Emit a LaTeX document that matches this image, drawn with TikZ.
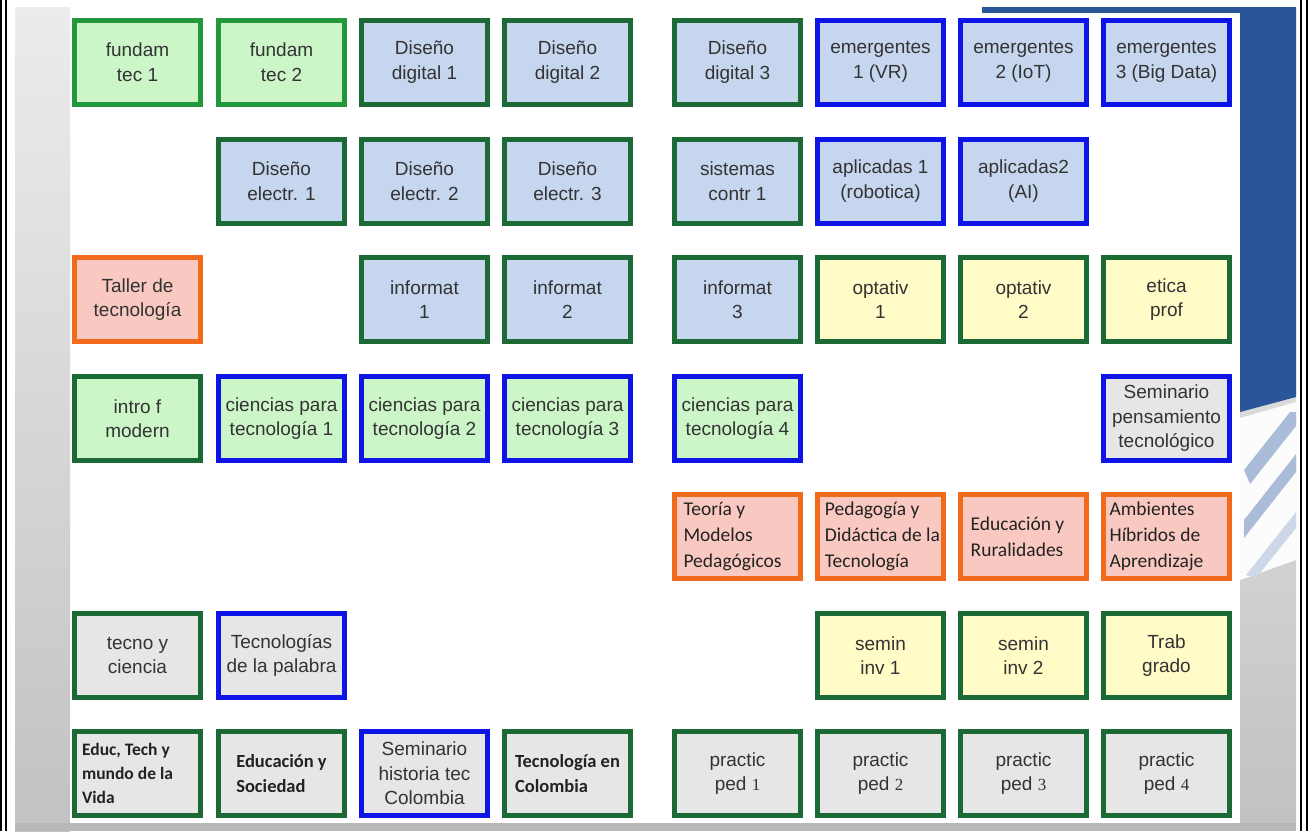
\documentclass[tikz,border=0pt]{standalone}
\usepackage{fontspec}
\setmainfont{Liberation Sans}
\newfontfamily\calib{Carlito}
\newfontfamily\digf{Liberation Serif}
\definecolor{fgreen}{HTML}{CCF5C8}
\definecolor{fblue}{HTML}{C6D6EF}
\definecolor{fyellow}{HTML}{FFFCC8}
\definecolor{fpink}{HTML}{F9C9C1}
\definecolor{fgray}{HTML}{E6E6E6}
\definecolor{bdgreen}{HTML}{1B6A35}
\definecolor{blgreen}{HTML}{22973C}
\definecolor{bblue}{HTML}{0F14E6}
\definecolor{borange}{HTML}{F26B1D}
\definecolor{txt}{HTML}{333333}
\definecolor{txtc}{HTML}{222222}
\definecolor{dblue}{HTML}{2A5699}
\definecolor{lstripe}{HTML}{AABCD8}
\definecolor{gtop}{HTML}{ECECEC}
\definecolor{gbot}{HTML}{C2C2C2}
\tikzset{
  box/.style={draw, line width=5pt, minimum width=126pt, minimum height=84pt,
    inner sep=0pt, outer sep=0pt, align=center, text=txt,
    font=\fontsize{19}{24.5}\selectfont},
  gg/.style={box, fill=fgreen, draw=bdgreen},
  ggl/.style={box, fill=fgreen, draw=blgreen},
  gb/.style={box, fill=fgreen, draw=bblue},
  bg/.style={box, fill=fblue, draw=bdgreen},
  bb/.style={box, fill=fblue, draw=bblue},
  yg/.style={box, fill=fyellow, draw=bdgreen},
  po/.style={box, fill=fpink, draw=borange},
  pc/.style={po, align=left, text=txtc, font=\calib\fontsize{19.5}{26}\selectfont},
  xg/.style={box, fill=fgray, draw=bdgreen},
  xb/.style={box, fill=fgray, draw=bblue},
  xc/.style={xg, align=left, text=txtc, font=\calib\bfseries\fontsize{18.5}{24.5}\selectfont},
  txl/.style={label={[text=txtc, align=left, font=#1, anchor=center]center:}},
}
\newcommand{\dg}[1]{{\digf\fontsize{17}{20}\selectfont #1}}
\begin{document}
\begin{tikzpicture}[x=1pt,y=-1pt]
\useasboundingbox (0,0) rectangle (1308,831);
% background
\fill[white] (0,0) rectangle (1308,831);
\shade[top color=gtop, bottom color=gbot] (15,7) rectangle (70,831);
\shade[top color=gtop!70!white, bottom color=gbot] (1240,7) rectangle (1296,823);
\fill[gbot!95!black] (15,823) rectangle (1296,831);
\fill[dblue] (1240,7) -- (1296,7) -- (1296,397) -- (1240,412) -- cycle;
\fill[dblue] (982,7) rectangle (1240,13);
\fill[white!85!gtop] (1240,418) -- (1296,402) -- (1296,560) -- (1240,580) -- cycle;
\fill[lstripe] (1244,470) -- (1290,412) -- (1296,412) -- (1296,426) -- (1250,484) -- cycle;
\fill[lstripe] (1244,520) -- (1296,454) -- (1296,472) -- (1244,538) -- cycle;
\fill[lstripe!60!white] (1246,575) -- (1296,512) -- (1296,528) -- (1256,578) -- cycle;
\draw[line width=2pt] (1,0) -- (1,831) (5.5,0) -- (5.5,831);
\draw[line width=2pt] (1300.5,0) -- (1300.5,831) (1306.5,0) -- (1306.5,831);
% row 1
\node[ggl] (ft1) at (137.5,62) {fundam\\tec 1};
\node[ggl] (ft2) at (281.5,62) {fundam\\tec 2};
\node[bg] (dd1) at (424.5,62) {Diseño\\digital 1};
\node[bg] (dd2) at (567.5,62) {Diseño\\digital 2};
\node[bg] (dd3) at (737.5,62) {Diseño\\digital 3};
\node[bb] (em1) at (880.5,62) {emergentes\\1 (VR)};
\node[bb] (em2) at (1023.5,62) {emergentes\\2 (IoT)};
\node[bb] (em3) at (1166.5,62) {emergentes\\3 (Big Data)};
% row 2
\node[bg] (de1) at (281.5,181) {Diseño\\electr. 1};
\node[bg] (de2) at (424.5,181) {Diseño\\electr. 2};
\node[bg] (de3) at (567.5,181) {Diseño\\electr. 3};
\node[bg] (sc1) at (737.5,181) {sistemas\\contr 1};
\node[bb] (ap1) at (880.5,181) {aplicadas 1\\(robotica)};
\node[bb] (ap2) at (1023.5,181) {aplicadas2\\(AI)};
% row 3
\node[po] (tal) at (137.5,299.5) {Taller de\\tecnología};
\node[bg] (in1) at (424.5,299.5) {informat\\1};
\node[bg] (in2) at (567.5,299.5) {informat\\2};
\node[bg] (in3) at (737.5,299.5) {informat\\3};
\node[yg] (op1) at (880.5,299.5) {optativ\\1};
\node[yg] (op2) at (1023.5,299.5) {optativ\\2};
\node[yg] (eti) at (1166.5,299.5) {etica\\prof};
% row 4
\node[gg] (ifm) at (137.5,418.5) {intro f\\modern};
\node[gb] (cp1) at (281.5,418.5) {ciencias para\\tecnología 1};
\node[gb] (cp2) at (424.5,418.5) {ciencias para\\tecnología 2};
\node[gb] (cp3) at (567.5,418.5) {ciencias para\\tecnología 3};
\node[gb] (cp4) at (737.5,418.5) {ciencias para\\tecnología 4};
\node[xb] (spt) at (1166.5,418.5) {Seminario\\pensamiento\\tecnológico};
% row 5 (boxes, then left-aligned text blocks)
\node[po] (tmp) at (737.5,536.5) {};
\node[po] (pdt) at (880.5,536.5) {};
\node[po] (eyr) at (1023.5,536.5) {};
\node[po] (ahb) at (1166.5,536.5) {};
\node[pc, draw=none, fill=none, minimum width=0pt, minimum height=0pt] (tmpt) at ([xshift=-5pt]tmp.center) {Teoría y\\Modelos\\Pedagógicos};
\node[pc, draw=none, fill=none, minimum width=0pt, minimum height=0pt] (pdtt) at ([xshift=2pt]pdt.center) {Pedagogía y\\Didáctica de la\\Tecnología};
\node[pc, draw=none, fill=none, minimum width=0pt, minimum height=0pt] (eyrt) at ([xshift=-6pt]eyr.center) {Educación y\\Ruralidades};
\node[pc, draw=none, fill=none, minimum width=0pt, minimum height=0pt] (ahbt) at ([xshift=-10pt]ahb.center) {Ambientes\\Híbridos de\\Aprendizaje};
% row 6
\node[xg] (tyc) at (137.5,655.5) {tecno y\\ciencia};
\node[xb] (tdp) at (281.5,655.5) {Tecnologías\\de la palabra};
\node[yg] (si1) at (880.5,655.5) {semin\\inv 1};
\node[yg] (si2) at (1023.5,655.5) {semin\\inv 2};
\node[yg] (tgr) at (1166.5,655.5) {Trab\\grado};
% row 7
\node[xg] (etm) at (137.5,773.5) {};
\node[xc, draw=none, fill=none, minimum width=0pt, minimum height=0pt, font=\calib\bfseries\fontsize{17.5}{24}\selectfont] (etmt) at ([xshift=-10pt]etm.center) {Educ, Tech y\\mundo de la\\Vida};
\node[xc] (eys) at (281.5,773.5) {Educación y\\Sociedad};
\node[xb] (sht) at (424.5,773.5) {Seminario\\historia tec\\Colombia};
\node[xc] (tec) at (567.5,773.5) {Tecnología en\\Colombia};
\node[xg] (pp1) at (737.5,773.5) {practic\\ped \dg{1}};
\node[xg] (pp2) at (880.5,773.5) {practic\\ped \dg{2}};
\node[xg] (pp3) at (1023.5,773.5) {practic\\ped \dg{3}};
\node[xg] (pp4) at (1166.5,773.5) {practic\\ped \dg{4}};
\end{tikzpicture}
\end{document}
